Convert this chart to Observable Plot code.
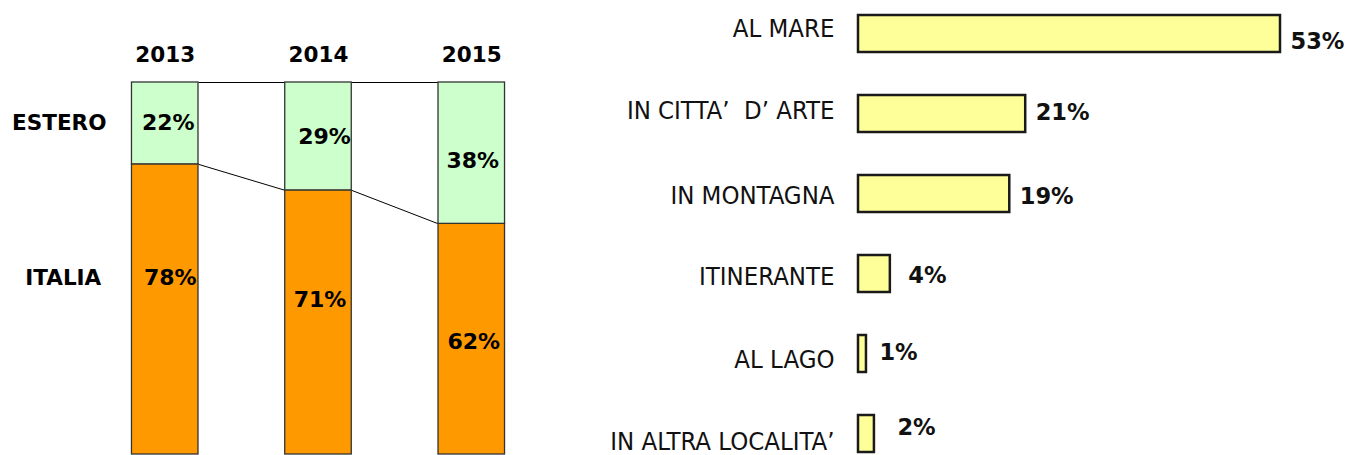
<!DOCTYPE html>
<html>
<head>
<meta charset="utf-8">
<script src="https://cdn.jsdelivr.net/npm/d3@7"></script>
<script src="https://cdn.jsdelivr.net/npm/@observablehq/plot@0.6"></script>
<style>
  html, body { margin: 0; padding: 0; background: #fff; }
  #wrap { display: flex; width: 1346px; height: 455px; overflow: hidden; }
  #wrap svg { max-width: none; overflow: visible; }
  .cond text { font-stretch: condensed; }
</style>
</head>
<body>
<div id="wrap"></div>
<script>
// ---- Left chart data: holiday destination share by year ----
const years = [2013, 2014, 2015];
const italia = [78, 71, 62];
const estero = [22, 29, 38];
const seriesNames = ["ESTERO", "ITALIA"];

// ---- Right chart data: type of location ----
const places = ["AL MARE", "IN CITTA’  D’ ARTE", "IN MONTAGNA", "ITINERANTE", "AL LAGO", "IN ALTRA LOCALITA’"];
const placeShare = [53, 21, 19, 4, 1, 2];

// label nudges (pixels)
const italiaLabelDy = [-31, -22, 3];
const italiaLabelDx = [5, 1.5, 2];
const esteroLabelDy = [0, 1, 8];
const esteroLabelDx = [3, 6, 1];
const placeLabelDy = [-5.5, -3, 2, 3, 5.5, 8];
const valueLabelDx = [10, 10, 10, 18, 13, 23];
const valueLabelDy = [7.5, -1, 3, 2, -1, -6.5];

const BOLD = "'DejaVu Sans', sans-serif";
const hw = 0.217; // half bar width in years

const rows = years.map((y, i) => ({year: y, italia: italia[i], estero: estero[i]}));
const pairs = rows.slice(0, -1).map((r, i) => ({a: r, b: rows[i + 1]}));

const left = Plot.plot({
  width: 560,
  height: 455,
  marginTop: 82,
  marginBottom: 1,
  marginLeft: 0,
  marginRight: 0,
  x: {domain: [2012.5, 2015.5], range: [88.1, 547.9]},
  y: {domain: [0, 100], axis: null},
  marks: [
    Plot.axisX({anchor: "top", ticks: years, tickSize: 0, tickPadding: 21, tickFormat: d => String(d),
      fontSize: 21.5, fontWeight: "bold", fontFamily: BOLD, fill: "#000", label: null}),
    // connector lines
    Plot.link(pairs, {x1: d => d.a.year + hw, x2: d => d.b.year - hw, y1: 100, y2: 100, stroke: "#000", strokeWidth: 1}),
    Plot.link(pairs, {x1: d => d.a.year + hw, x2: d => d.b.year - hw, y1: d => d.a.italia, y2: d => d.b.italia, stroke: "#000", strokeWidth: 1}),
    // bars
    Plot.rect(rows, {x1: d => d.year - hw, x2: d => d.year + hw, y1: 0, y2: d => d.italia, fill: "#ff9900", stroke: "#333", strokeWidth: 1.3}),
    Plot.rect(rows, {x1: d => d.year - hw, x2: d => d.year + hw, y1: d => d.italia, y2: 100, fill: "#ccffcc", stroke: "#333", strokeWidth: 1.3}),
    // value labels
    ...rows.map((r, i) => Plot.text([r], {x: "year", y: d => d.italia + d.estero / 2, text: d => d.estero + "%",
      dx: esteroLabelDx[i], dy: esteroLabelDy[i], fontSize: 22, fontWeight: "bold", fontFamily: BOLD, fill: "#000"})),
    ...rows.map((r, i) => Plot.text([r], {x: "year", y: d => d.italia / 2, text: d => d.italia + "%",
      dx: italiaLabelDx[i], dy: italiaLabelDy[i], fontSize: 22, fontWeight: "bold", fontFamily: BOLD, fill: "#000"})),
    // series labels
    Plot.text([rows[0]], {x: "year", y: d => d.italia + d.estero / 2, text: () => seriesNames[0], dx: -106,
      fontSize: 21.5, fontWeight: "bold", fontFamily: BOLD, fill: "#000", letterSpacing: -0.6}),
    Plot.text([rows[0]], {x: "year", y: d => d.italia / 2, text: () => seriesNames[1], dx: -102, dy: italiaLabelDy[0],
      fontSize: 21.5, fontWeight: "bold", fontFamily: BOLD, fill: "#000", letterSpacing: -0.4})
  ]
});

const prow = places.map((p, i) => ({place: p, v: placeShare[i]}));

const right = Plot.plot({
  width: 786,
  height: 455,
  marginLeft: 298,
  marginRight: 0,
  marginTop: 0,
  marginBottom: 0,
  x: {domain: [0, 53], range: [298, 720], axis: null},
  y: {domain: places, range: [15, 452], paddingInner: 0.5375, paddingOuter: 0, axis: null},
  marks: [
    Plot.barX(prow, {x: "v", y: "place", fill: "#ffff99", stroke: "#1a1a1a", strokeWidth: 2.5}),
    ...prow.map((r, i) => Plot.text([r], {x: 0, y: "place", text: "place", textAnchor: "end", dx: -24, dy: placeLabelDy[i],
      fontSize: 25.5, fontFamily: "'DejaVu Sans Condensed', 'DejaVu Sans', sans-serif", fill: "#111", className: "cond"})),
    ...prow.map((r, i) => Plot.text([r], {x: "v", y: "place", text: d => d.v + "%", textAnchor: "start",
      dx: valueLabelDx[i], dy: valueLabelDy[i], fontSize: 22.5, fontWeight: "bold", fontFamily: BOLD, fill: "#111"}))
  ]
});

document.getElementById("wrap").append(left, right);
</script>
</body>
</html>
